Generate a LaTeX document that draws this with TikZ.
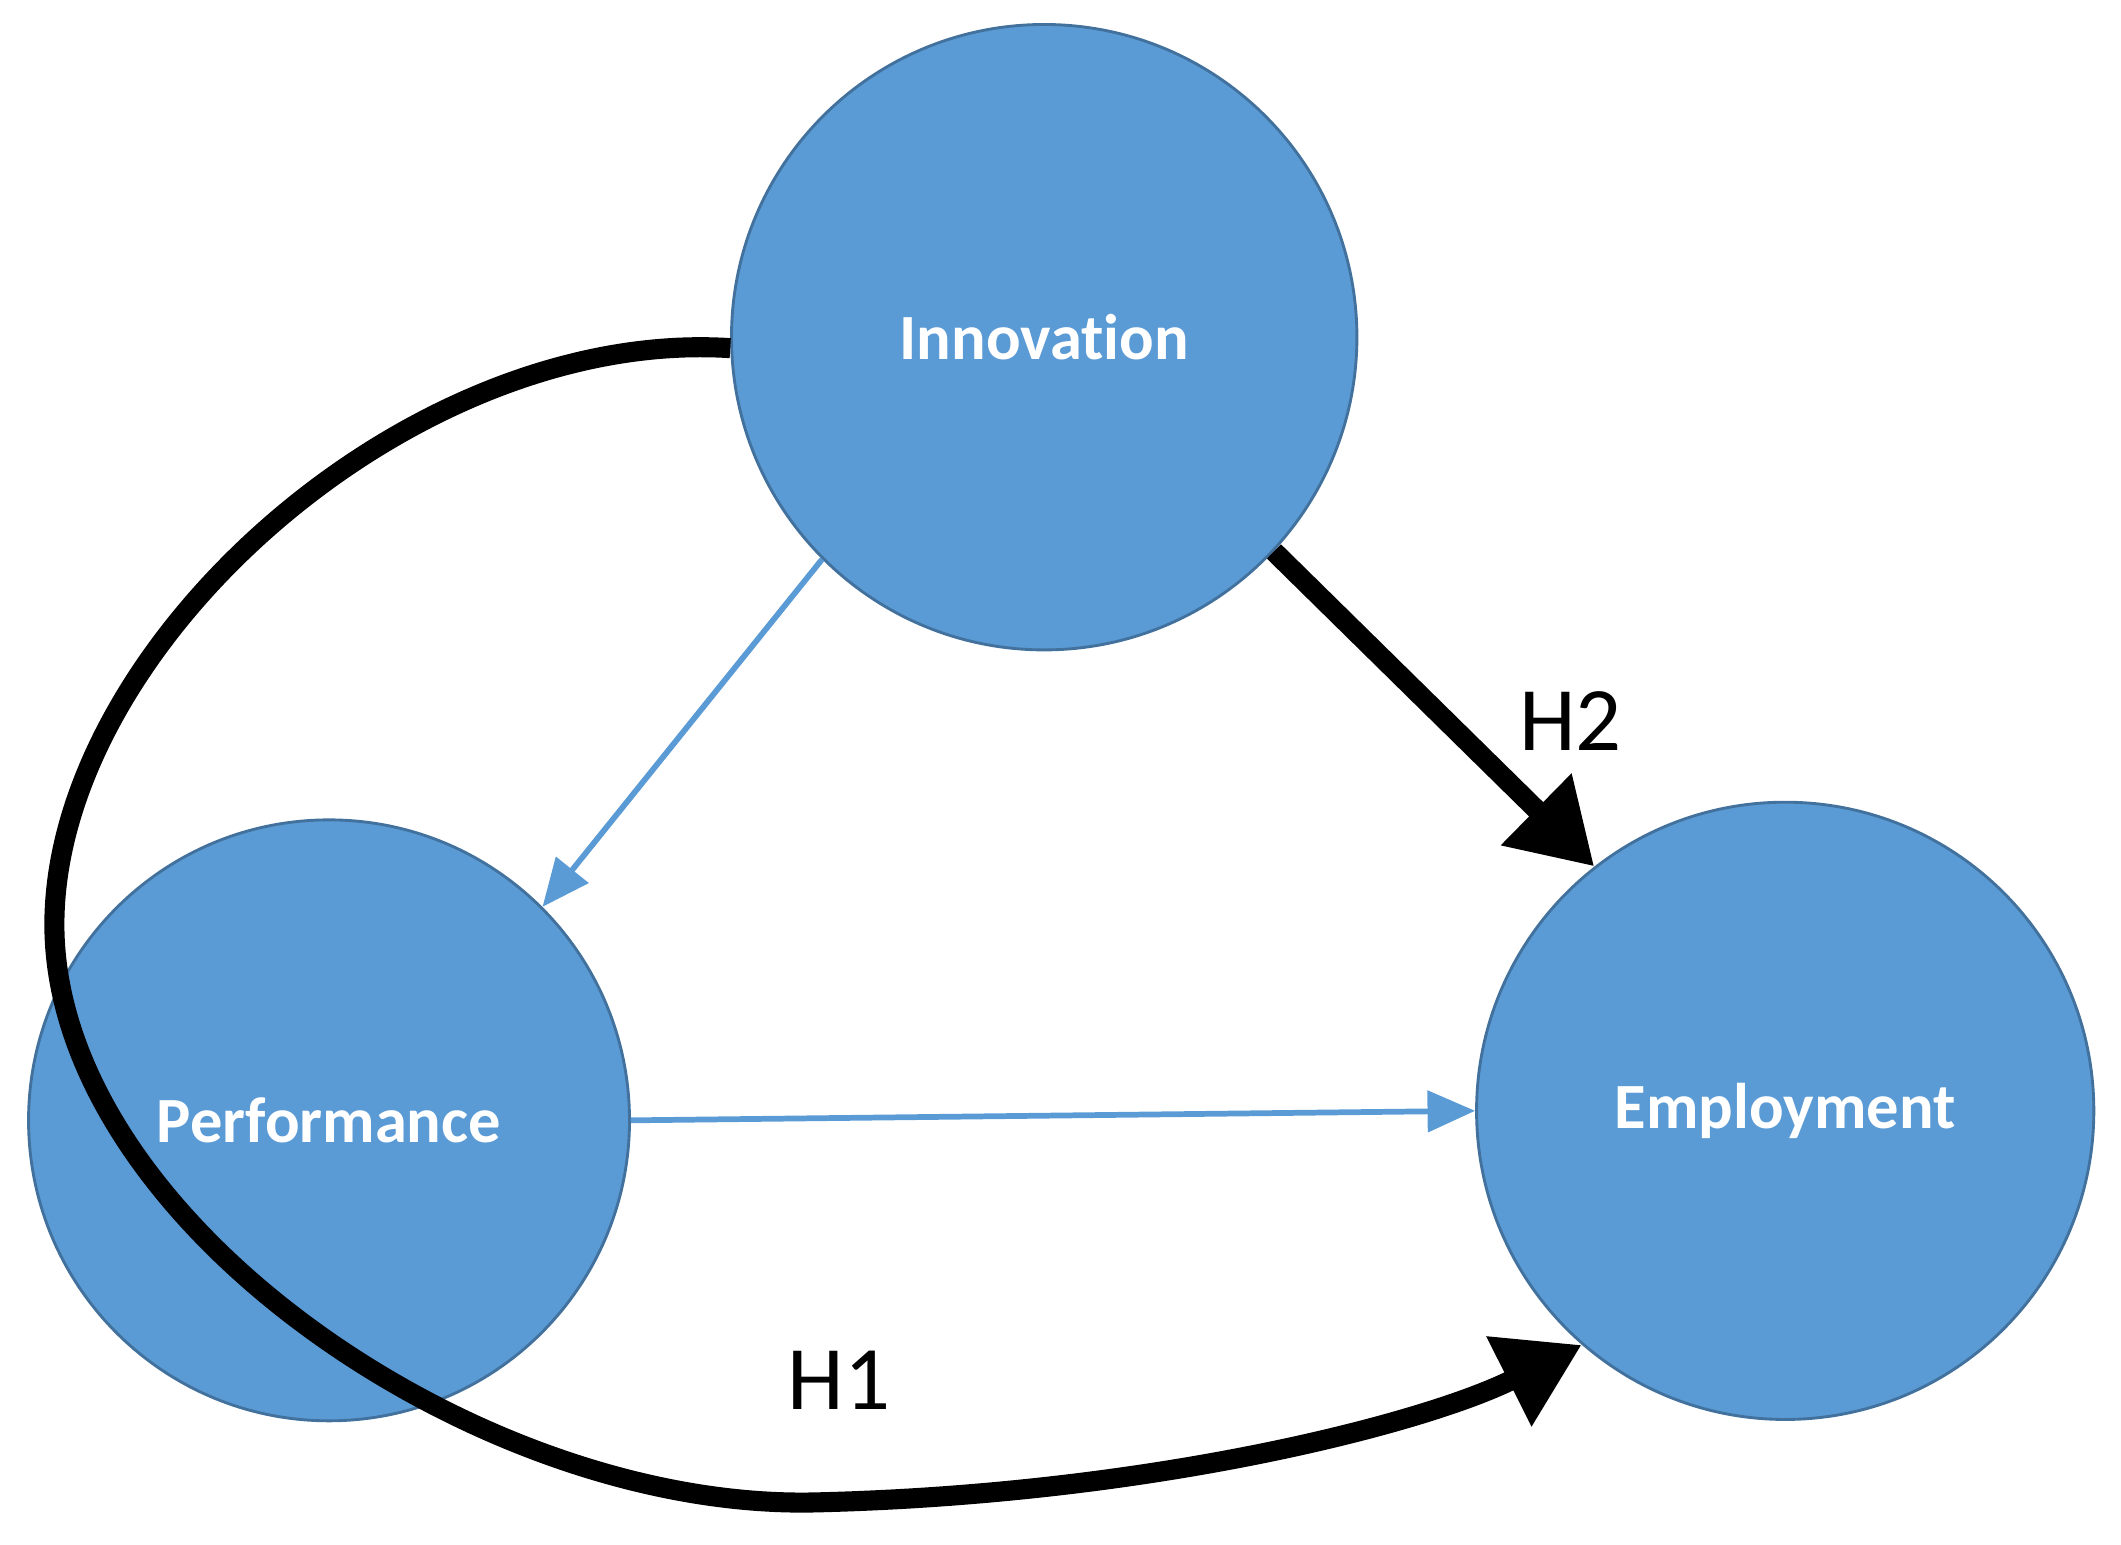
\documentclass[tikz,border=0pt]{standalone}
\usepackage{fontspec}
\setmainfont{Carlito}[Ligatures={NoCommon,NoRare,NoContextual}]
\usetikzlibrary{arrows.meta}
\definecolor{circfill}{HTML}{5B9BD5}
\definecolor{circdraw}{HTML}{41719C}

\begin{document}
\begin{tikzpicture}[>={Latex}]
	\tikzstyle{factor}=[circle,fill=circfill,draw=circdraw,line width=0.6pt,text=white,font=\fontsize{13.5}{16}\selectfont\bfseries,inner sep=0pt]
	\tikzstyle{weak link}=[-{Triangle[length=3.5mm,width=3mm]},draw=circfill,line width=1.2pt]
	\tikzstyle{hypo link}=[-{Triangle[length=6mm,width=7mm]},draw=black,line width=4.2pt]
	\tikzstyle{hypo}=[font=\fontsize{19}{22}\selectfont]

	\useasboundingbox (0,0) rectangle (15.6,11.36);

	% Draw the three factors
	\node[factor, minimum size=4.6cm] (Inno) at (7.68,8.88) {Innovation};
	\node[factor, minimum size=4.42cm] (Perf) at (2.42,3.12) {Performance};
	\node[factor, minimum size=4.54cm] (Empl) at (13.13,3.19) {Employment};

	% Plain links
	\draw[weak link] (Inno.225) -- (Perf.45);
	\draw[weak link] (Perf.east) -- (Empl.west);

	% Hypotheses
	\draw[hypo link] (Inno.-43) -- (Empl.128);
	\draw[hypo link] (Inno.182) .. controls (3.0,8.95) and (0.4,6.6) .. (0.4,4.56)
		.. controls (0.4,2.4) and (3.5,0.25) .. (6.0,0.31)
		.. controls (8.5,0.37) and (10.5,0.9) .. (Empl.-131);
	\node[hypo] (H2) at (11.55,6.06) {H2};
	\node[hypo] (H1) at (6.17,1.21) {H1};
\end{tikzpicture}
\end{document}
